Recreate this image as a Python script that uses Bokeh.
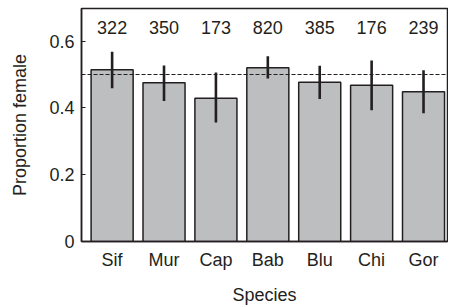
from bokeh.plotting import figure
from bokeh.models import FixedTicker, Span, ColumnDataSource, Range1d
from bokeh.embed import file_html
from bokeh.resources import INLINE
from bokeh.core.properties import value

species = ["Sif", "Mur", "Cap", "Bab", "Blu", "Chi", "Gor"]
proportion = [0.514, 0.475, 0.429, 0.520, 0.477, 0.468, 0.448]
ci_low = [0.459, 0.421, 0.356, 0.488, 0.427, 0.393, 0.384]
ci_high = [0.568, 0.527, 0.506, 0.555, 0.526, 0.542, 0.513]
counts = ["322", "350", "173", "820", "385", "176", "239"]
y_ticks = [0, 0.2, 0.4, 0.6]
y_tick_labels = {0: "0", 0.2: "0.2", 0.4: "0.4", 0.6: "0.6"}
ref_line = 0.5

xs = list(range(1, len(species) + 1))
src = ColumnDataSource(dict(x=xs, top=proportion, lo=ci_low, hi=ci_high,
                            n=counts, ny=[0.641] * len(xs)))

FONT = "Liberation Sans"
TXT = "#231f20"
FS = "18px"

p = figure(frame_width=366, frame_height=233, output_backend="svg",
           toolbar_location=None,
           x_range=Range1d(0.41, 7.462), y_range=Range1d(0, 0.6976),
           min_border_left=81, min_border_right=1, min_border_top=8,
           min_border_bottom=40)
p.background_fill_color = "white"
p.border_fill_color = "white"
p.outline_line_color = TXT
p.outline_line_width = 1.5
p.grid.visible = False

p.vbar(x="x", top="top", width=0.81, bottom=0, source=src,
       fill_color="#bcbec0", line_color=TXT, line_width=1.5)
p.segment(x0="x", x1="x", y0="lo", y1="hi", source=src,
          line_color=TXT, line_width=2.6)
p.add_layout(Span(location=ref_line, dimension="width", line_color=TXT,
                  line_width=1.2, line_dash="4 2"))
p.text(x="x", y="ny", text="n", source=src, text_align="center",
       text_baseline="middle", text_font=value(FONT), text_font_size=FS,
       text_color=TXT)

xa = p.xaxis[0]
xa.ticker = FixedTicker(ticks=xs)
xa.major_label_overrides = {i: s for i, s in zip(xs, species)}
xa.major_tick_in = 0
xa.major_tick_out = 0
xa.minor_tick_line_color = None
xa.axis_line_color = TXT
xa.axis_line_width = 1.5
xa.major_label_standoff = 8
xa.major_label_text_font = FONT
xa.major_label_text_font_size = FS
xa.major_label_text_color = TXT
xa.axis_label = "Species"
xa.axis_label_text_font = FONT
xa.axis_label_text_font_size = FS
xa.axis_label_text_font_style = "normal"
xa.axis_label_text_color = TXT
xa.axis_label_standoff = 12

ya = p.yaxis[0]
ya.ticker = FixedTicker(ticks=y_ticks)
ya.major_label_overrides = y_tick_labels
ya.major_tick_in = 4
ya.major_tick_out = 0
ya.major_tick_line_color = TXT
ya.major_tick_line_width = 1.2
ya.minor_tick_line_color = None
ya.axis_line_color = TXT
ya.axis_line_width = 1.5
ya.major_label_standoff = 7
ya.major_label_text_font = FONT
ya.major_label_text_font_size = FS
ya.major_label_text_color = TXT
ya.axis_label = "Proportion female"
ya.axis_label_text_font = FONT
ya.axis_label_text_font_size = FS
ya.axis_label_text_font_style = "normal"
ya.axis_label_text_color = TXT
ya.axis_label_standoff = 16

open("out.html", "w").write(file_html(p, INLINE))
